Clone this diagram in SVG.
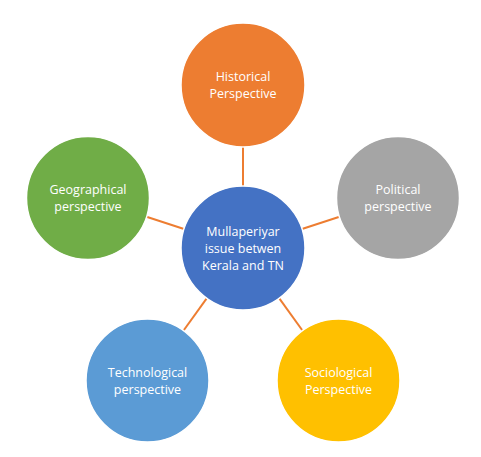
<svg xmlns="http://www.w3.org/2000/svg" width="481" height="457" viewBox="0 0 481 457">
<style>
.c{stroke:#fff;stroke-width:1.5}
.t{font-family:"Open Sans","Liberation Sans",sans-serif;font-size:12.5px;fill:#fff;text-anchor:middle}
.l{stroke:#ED7D31;stroke-width:2;fill:none}
</style>
<rect width="481" height="457" fill="#fff"/>
<g id="connectors">
<line class="l" x1="243" y1="147" x2="243" y2="186"/>
<line class="l" x1="184" y1="229" x2="146.5" y2="216.8"/>
<line class="l" x1="302" y1="229" x2="339.5" y2="216.8"/>
<line class="l" x1="206.7" y1="298.3" x2="183.2" y2="331"/>
<line class="l" x1="279.3" y1="298.3" x2="302.8" y2="331"/>
</g>
<g id="center">
<circle class="c" cx="243" cy="248" r="62" fill="#4472C4"/>
<text class="t" x="243" y="235.5">Mullaperiyar</text>
<text class="t" x="243" y="252.5">issue betwen</text>
<text class="t" x="243" y="269.5">Kerala and TN</text>
</g>
<g id="historical">
<circle class="c" cx="243" cy="85" r="62" fill="#ED7D31"/>
<text class="t" x="243" y="81">Historical</text>
<text class="t" x="243" y="98">Perspective</text>
</g>
<g id="political">
<circle class="c" cx="398" cy="198" r="61.5" fill="#A5A5A5"/>
<text class="t" x="398" y="194">Political</text>
<text class="t" x="398" y="211">perspective</text>
</g>
<g id="geographical">
<circle class="c" cx="88" cy="198" r="61.5" fill="#70AD47"/>
<text class="t" x="88" y="194">Geographical</text>
<text class="t" x="88" y="211">perspective</text>
</g>
<g id="technological">
<circle class="c" cx="147.5" cy="380.5" r="61.5" fill="#5B9BD5"/>
<text class="t" x="147.5" y="376.5">Technological</text>
<text class="t" x="147.5" y="393.5">perspective</text>
</g>
<g id="sociological">
<circle class="c" cx="338.5" cy="380.5" r="61.5" fill="#FFC000"/>
<text class="t" x="338.5" y="376.5">Sociological</text>
<text class="t" x="338.5" y="393.5">Perspective</text>
</g>
</svg>
